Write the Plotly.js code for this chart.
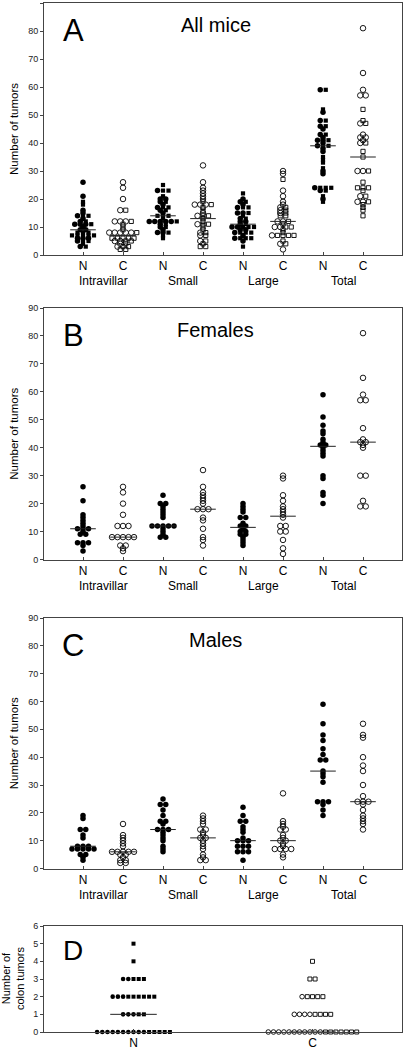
<!DOCTYPE html>
<html><head><meta charset="utf-8">
<script src="https://cdn.plot.ly/plotly-3.0.1.min.js"></script>
<style>html,body{margin:0;padding:0;background:#fff}#chart{width:404px;height:1050px}</style>
</head><body><div id="chart"></div>
<script>
// ---------- data ----------
const groups = ["Intravillar", "Small", "Large", "Total"];
const tickLabels = ["N", "C", "N", "C", "N", "C", "N", "C"];
const panelTitles = ["All mice", "Females", "Males"];
const panelLetters = ["A", "B", "C", "D"];
const colonLabels = ["N", "C"];

// Females (panel B)
const femIntraN = [26, 21, 16, 15, 14, 13, 12, 11, 11, 11, 10, 9, 9, 6, 6, 6, 5, 3];
const femIntraC = [26, 24, 20, 16, 12, 12, 12, 8, 8, 8, 8, 8, 5, 5, 4, 3];
const femSmallN = [23, 20, 20, 19, 18, 17, 16, 15, 12, 12, 12, 12, 12, 11, 10, 9, 8, 8];
const femSmallC = [32, 26, 24, 23, 22, 21, 20, 18, 18, 18, 15, 14, 11, 8, 7, 5];
const femLargeN = [20, 19, 18, 17, 15, 15, 13, 12, 12, 11, 10, 10, 9, 9, 8, 7, 6, 5];
const femLargeC = [30, 29, 23, 21, 19, 18, 17, 16, 15, 12, 12, 10, 10, 7, 4, 2];
const femTotalN = [59, 51, 48, 46, 45, 43, 42, 41, 41, 40, 39, 38, 37, 30, 29, 24, 23, 20];
const femTotalC = [81, 65, 59, 57, 57, 47, 43, 42, 42, 41, 40, 30, 30, 21, 19, 19];

// Males (panel C)
const maleIntraN = [19, 18, 14, 14, 12, 11, 8, 8, 8, 7, 7, 7, 7, 7, 5, 5, 4, 3];
const maleIntraC = [16, 12, 11, 10, 9, 8, 6, 6, 6, 6, 6, 5, 5, 4, 3, 3, 2, 2];
const maleSmallN = [25, 23, 23, 21, 19, 17, 17, 16, 14, 14, 14, 13, 12, 11, 10, 8, 7, 6];
const maleSmallC = [19, 18, 17, 16, 14, 14, 13, 12, 11, 11, 10, 9, 8, 7, 5, 4, 3, 3];
const maleLargeN = [22, 19, 17, 17, 15, 14, 13, 11, 10, 10, 10, 8, 8, 8, 6, 6, 6, 3];
const maleLargeC = [27, 17, 16, 15, 14, 14, 12, 11, 10, 10, 9, 8, 7, 7, 7, 7, 5, 4];
const maleTotalN = [59, 52, 48, 46, 43, 41, 39, 39, 35, 34, 33, 31, 24, 24, 24, 23, 21, 19];
const maleTotalC = [52, 48, 47, 40, 37, 35, 30, 26, 24, 24, 24, 23, 21, 19, 18, 17, 16, 14];

// Colon tumors (panel D)
const femColonN = [3, 3, 2, 2, 2, 1, 1, 1, 0, 0, 0, 0, 0, 0, 0, 0, 0, 0];
const maleColonN = [5, 4, 3, 3, 3, 2, 2, 2, 2, 2, 2, 1, 1, 0, 0, 0, 0, 0];
const femColonC = [2, 1, 1, 1, 1, 0, 0, 0, 0, 0, 0, 0, 0, 0, 0, 0];
const maleColonC = [4, 3, 3, 2, 2, 2, 2, 1, 1, 1, 1, 0, 0, 0, 0, 0, 0, 0];

// Medians (horizontal bars)
const medA = [9, 7, 14, 13, 11, 12, 39, 35];
const medB = [11, 8, 12, 18, 11.5, 15.5, 40.5, 42];
const medC = [8, 6, 14, 11, 10, 10, 35, 24];
const medD = [1, 0];

// ---------- layout geometry ----------
const W = 404, H = 1050;
const FONT = "Liberation Sans, Arial, sans-serif";
const plotL = 44, plotR = 402;
const panels = [ {top: 3, bot: 255}, {top: 308, bot: 559.5}, {top: 618, bot: 868.5}, {top: 926, bot: 1032} ];
const xRange8 = [0.025, 8.975];
const xRangeD = [0.5, 2.5];
const px2x = p => p / W;
const px2y = p => 1 - p / H;

const femSets = [femIntraN, femIntraC, femSmallN, femSmallC, femLargeN, femLargeC, femTotalN, femTotalC];
const maleSets = [maleIntraN, maleIntraC, maleSmallN, maleSmallC, maleLargeN, maleLargeC, maleTotalN, maleTotalC];

const traces = [];

function addSwarm(xa, ya, catSets, spacingU, sizes) {
  // catSets: array of {pos, sets:[{vals, sym}]}
  const buckets = {};
  catSets.forEach(c => {
    const rows = new Map();
    c.sets.forEach(s => s.vals.forEach(v => {
      if (!rows.has(v)) rows.set(v, []);
      rows.get(v).push(s.sym);
    }));
    rows.forEach((syms, v) => {
      const n = syms.length;
      syms.forEach((sym, k) => {
        if (!buckets[sym]) buckets[sym] = {x: [], y: []};
        buckets[sym].x.push(c.pos + (k - (n - 1) / 2) * spacingU);
        buckets[sym].y.push(v);
      });
    });
  });
  Object.keys(buckets).forEach(sym => {
    const isSq = sym.indexOf("square") === 0;
    const open = sym.indexOf("open") > 0;
    traces.push({
      type: "scatter", mode: "markers", xaxis: xa, yaxis: ya, cliponaxis: false,
      x: buckets[sym].x, y: buckets[sym].y, hoverinfo: "skip",
      marker: { symbol: sym, size: isSq ? sizes.sq : sizes.c, color: "#000",
        line: { width: open ? 0.9 : 0, color: "#000" } }
    });
  });
}

function addMedians(xa, ya, meds, halfW) {
  const x = [], y = [];
  meds.forEach((m, i) => { x.push(i + 1 - halfW, i + 1 + halfW, null); y.push(m, m, null); });
  traces.push({type: "scatter", mode: "lines", xaxis: xa, yaxis: ya, x, y, cliponaxis: false,
    hoverinfo: "skip", line: {color: "#222", width: 1}});
}

const pxPerU8 = (plotR - plotL) / (xRange8[1] - xRange8[0]);
const pxPerUD = (plotR - plotL) / (xRangeD[1] - xRangeD[0]);
const sp8 = 5.5 / pxPerU8;
const spD = 5.2 / pxPerUD;
const sizes8 = {c: 5.5, sq: 4.2};
const sizesD = {c: 4.6, sq: 4.0};

// Panel A: females circles, males squares
addSwarm("x", "y", femSets.map((f, i) => ({pos: i + 1, sets: [
  {vals: f, sym: i % 2 ? "circle-open" : "circle"},
  {vals: maleSets[i], sym: i % 2 ? "square-open" : "square"}]})), sp8, sizes8);
addMedians("x", "y", medA, 0.32);
// Panel B: females
addSwarm("x2", "y2", femSets.map((f, i) => ({pos: i + 1, sets: [
  {vals: f, sym: i % 2 ? "circle-open" : "circle"}]})), sp8, sizes8);
addMedians("x2", "y2", medB, 0.32);
// Panel C: males
addSwarm("x3", "y3", maleSets.map((m, i) => ({pos: i + 1, sets: [
  {vals: m, sym: i % 2 ? "circle-open" : "circle"}]})), sp8, sizes8);
addMedians("x3", "y3", medC, 0.32);
// Panel D
addSwarm("x4", "y4", [
  {pos: 1, sets: [{vals: femColonN, sym: "circle"}, {vals: maleColonN, sym: "square"}]},
  {pos: 2, sets: [{vals: femColonC, sym: "circle-open"}, {vals: maleColonC, sym: "square-open"}]}
], spD, sizesD);
addMedians("x4", "y4", medD, 0.13);

// ---------- axes ----------
const baseAx = {showline: true, linecolor: "#444", linewidth: 1, mirror: true, showgrid: false,
  zeroline: false, fixedrange: true, automargin: false};
const layout = {width: W, height: H, margin: {l: 0, r: 0, t: 0, b: 0}, showlegend: false,
  paper_bgcolor: "#fff", plot_bgcolor: "#fff", font: {family: FONT, color: "#000"}, annotations: []};

panels.forEach((p, i) => {
  const sfx = i === 0 ? "" : String(i + 1);
  const isD = i === 3;
  layout["xaxis" + sfx] = Object.assign({}, baseAx, {
    domain: [px2x(plotL), px2x(plotR)], anchor: "y" + sfx,
    range: isD ? xRangeD : xRange8, tickmode: "array",
    tickvals: isD ? [1, 2] : tickLabels.map((t, k) => k + 1),
    ticktext: isD ? colonLabels : tickLabels,
    ticks: "inside", ticklen: 3, tickcolor: "#444",
    tickfont: {family: FONT, size: 12, color: "#000"}
  });
  layout["yaxis" + sfx] = Object.assign({}, baseAx, {
    domain: [px2y(p.bot), px2y(p.top)], anchor: "x" + sfx,
    range: isD ? [0, 6] : [0, 90], dtick: isD ? 1 : 10, tick0: 0,
    ticks: "outside", ticklen: 3, tickcolor: "#444",
    tickfont: {family: FONT, size: 9, color: "#222"}
  });
  // y titles
  layout.annotations.push({xref: "paper", yref: "paper", x: px2x(isD ? 13 : 14), y: px2y((p.top + p.bot) / 2),
    text: isD ? "Number of<br>colon tumors" : "Number of tumors", textangle: -90, showarrow: false,
    xanchor: "center", yanchor: "middle", font: {family: FONT, size: isD ? 11 : 11.5, color: "#000"}});
  // letter
  layout.annotations.push({xref: "paper", yref: "paper", x: px2x(73), y: px2y(p.top + (isD ? 24 : 27)),
    text: panelLetters[i], showarrow: false, xanchor: "center", yanchor: "middle",
    font: {family: FONT, size: isD ? 28 : 31, color: "#000"}});
  if (!isD) {
    layout.annotations.push({xref: "paper", yref: "paper", x: px2x(215.5), y: px2y(p.top + 22),
      text: panelTitles[i], showarrow: false, xanchor: "center", yanchor: "middle",
      font: {family: FONT, size: 20, color: "#000"}});
    groups.forEach((g, k) => {
      layout.annotations.push({xref: "x" + sfx, yref: "paper", x: 2 * k + 1.5, y: px2y(p.bot + 26),
        text: g, showarrow: false, xanchor: "center", yanchor: "middle",
        font: {family: FONT, size: 12, color: "#000"}});
    });
  }
});

Plotly.newPlot("chart", traces, layout, {displayModeBar: false, staticPlot: true});
</script></body></html>
